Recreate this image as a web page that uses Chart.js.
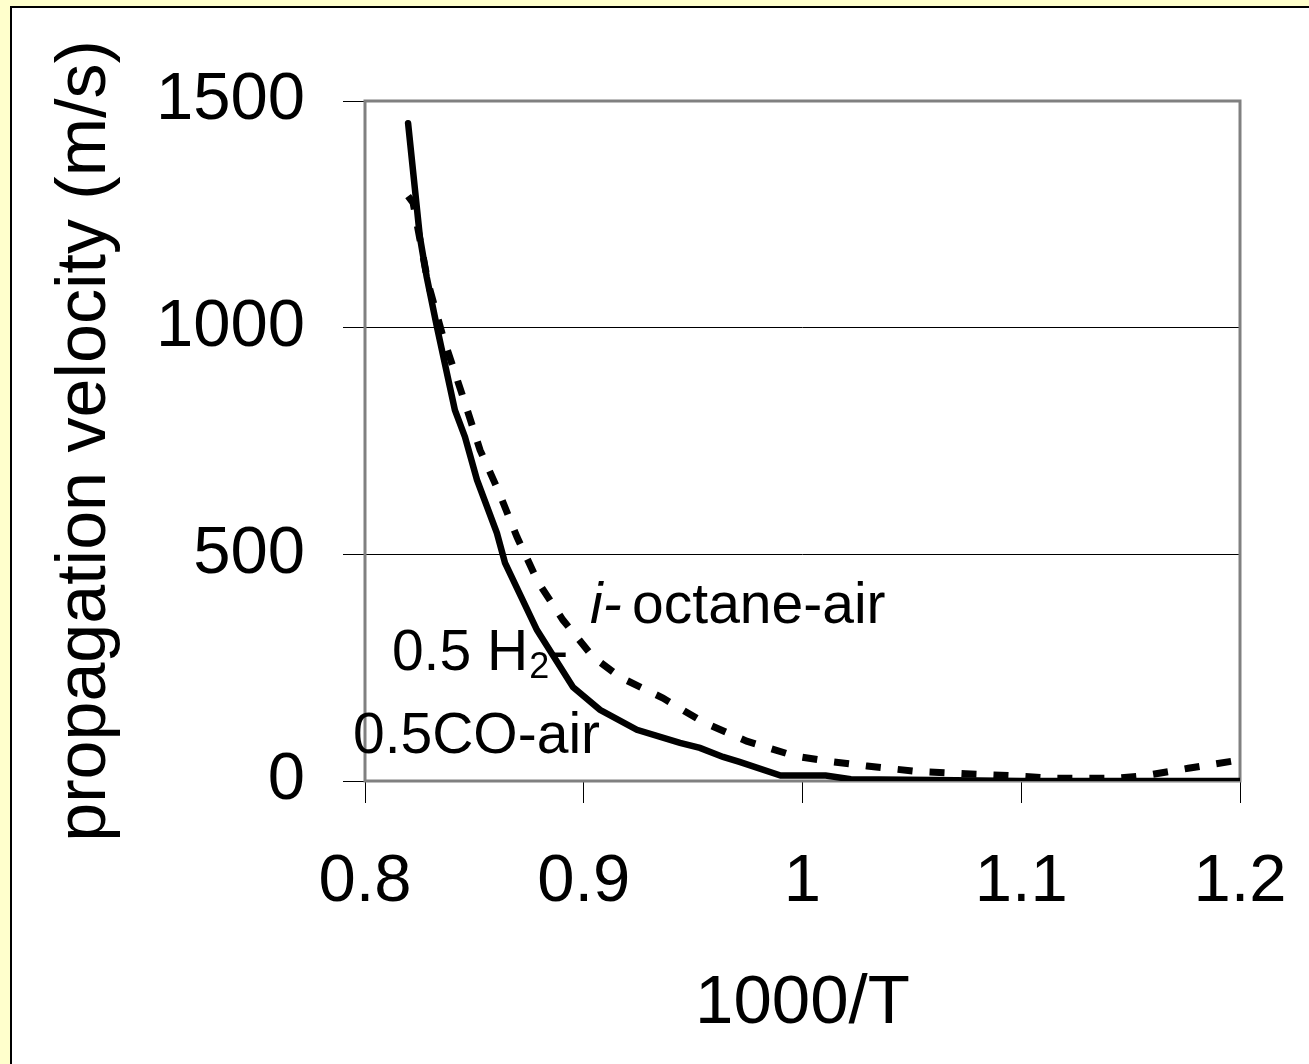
<!DOCTYPE html>
<html lang="en">
  <head>
    <meta charset="UTF-8" />
    <title>Propagation velocity vs 1000/T</title>
    <script src="https://cdn.jsdelivr.net/npm/chart.js@4.4.1/dist/chart.umd.min.js"></script>
    <style>
      body { margin: 0; background: #ffffcc; }
      canvas { display: block; }
    </style>
  </head>
  <body>
    <canvas id="myChart" width="1309" height="1064"></canvas>

    <script>
      // 0.5 H2 - 0.5 CO - air (solid)
      const h2coX = [0.8197, 0.8251, 0.8282, 0.8329, 0.8411, 0.8457, 0.8512, 0.8603, 0.864, 0.8786, 0.8951, 0.9074, 0.9243, 0.944, 0.9531, 0.9637, 0.9712, 0.99, 1.0106, 1.0221, 1.06, 1.1, 1.2];
      const h2coY = [1451, 1200, 1112, 1001, 818, 759, 664, 547, 481, 333, 207, 157, 113, 84, 73, 53, 42, 12, 12, 4, 2, 0, 0];

      // i-octane - air (dashed)
      const octaneX = [0.8197, 0.822, 0.8288, 0.8357, 0.8457, 0.8526, 0.8608, 0.8695, 0.8791, 0.8905, 0.9042, 0.9166, 0.9362, 0.9545, 0.9745, 0.9966, 1.0097, 1.0295, 1.0524, 1.0746, 1.095, 1.1156, 1.1433, 1.1565, 1.1763, 1.1968, 1.2];
      const octaneY = [1290, 1275, 1099, 979, 834, 730, 642, 538, 439, 355, 274, 229, 183, 130, 88, 55, 45, 33, 21, 16, 12, 6, 6, 12, 28, 44, 47];

      const xTicks = [0.8, 0.9, 1.0, 1.1, 1.2];
      const xTickLabels = ["0.8", "0.9", "1", "1.1", "1.2"];
      const yTicks = [0, 500, 1000, 1500];
      const yTickLabels = ["0", "500", "1000", "1500"];

      const FONT = "'Liberation Sans', Arial, sans-serif";

      const toPoints = (xs, ys) => xs.map((x, i) => ({ x: x, y: ys[i] }));

      // page frame: yellow strip with dark edge on top/left
      const framePlugin = {
        id: "frame",
        beforeDraw(chart) {
          const c = chart.ctx;
          c.save();
          c.fillStyle = "#ffffcc";
          c.fillRect(0, 0, chart.width, chart.height);
          c.fillStyle = "#000000";
          c.fillRect(10, 6, chart.width - 10, 2);
          c.fillRect(10, 6, 2, chart.height - 6);
          c.fillStyle = "#ffffff";
          c.fillRect(12, 8, chart.width - 12, chart.height - 8);
          c.restore();
        },
      };

      // grey plot border + text labels on the curves
      const labelPlugin = {
        id: "labels",
        beforeDatasetsDraw(chart) {
          const c = chart.ctx;
          const a = chart.chartArea;
          const xs = chart.scales.x;
          const ys = chart.scales.y;
          c.save();
          c.strokeStyle = "#808080";
          c.lineWidth = 3;
          c.strokeRect(a.left, a.top, a.right - a.left, a.bottom - a.top);

          c.fillStyle = "#000";
          c.textBaseline = "alphabetic";
          c.textAlign = "left";

          // i-octane-air
          let px = xs.getPixelForValue(0.9029);
          let py = ys.getPixelForValue(349);
          c.font = "italic 57px " + FONT;
          c.fillText("i-", px, py);
          c.font = "57px " + FONT;
          c.fillText("octane-air", px + 42, py);

          // 0.5 H2-
          px = xs.getPixelForValue(0.8123);
          py = ys.getPixelForValue(245);
          c.font = "57px " + FONT;
          c.fillText("0.5 H", px, py);
          let w = c.measureText("0.5 H").width;
          c.font = "36px " + FONT;
          c.fillText("2", px + w + 1, py + 8);
          let w2 = c.measureText("2").width;
          c.font = "57px " + FONT;
          c.fillText("-", px + w + w2 + 1, py);

          // 0.5CO-air
          px = xs.getPixelForValue(0.7945);
          py = ys.getPixelForValue(62);
          c.fillText("0.5CO-air", px, py);
          c.restore();
        },
      };

      const ctx = document.getElementById("myChart");

      new Chart(ctx, {
        type: "line",
        data: {
          datasets: [
            {
              label: "0.5 H2-0.5CO-air",
              data: toPoints(h2coX, h2coY),
              borderColor: "#000",
              borderWidth: 6.5,
              pointRadius: 0,
              tension: 0,
              borderCapStyle: "round",
            },
            {
              label: "i-octane-air",
              data: toPoints(octaneX, octaneY),
              borderColor: "#000",
              borderWidth: 7,
              borderDash: [15, 17],
              pointRadius: 0,
              tension: 0,
            },
          ],
        },
        options: {
          responsive: false,
          animation: false,
          layout: { padding: { top: 101, right: 69, left: 0, bottom: 0 } },
          plugins: {
            legend: { display: false },
            tooltip: { enabled: false },
          },
          scales: {
            x: {
              type: "linear",
              min: 0.8,
              max: 1.2,
              afterBuildTicks: (s) => { s.ticks = xTicks.map((v) => ({ value: v })); },
              afterFit: (s) => {
                s.height = 283;
                s.paddingLeft = 0;
                s.paddingRight = 0;
              },
              ticks: {
                color: "#000",
                font: { family: FONT, size: 67 },
                padding: 39,
                maxRotation: 0,
                callback: (v) => xTickLabels[xTicks.findIndex((t) => Math.abs(t - v) < 1e-6)],
              },
              grid: {
                drawOnChartArea: false,
                drawTicks: true,
                tickLength: 22,
                tickColor: "#000",
                lineWidth: 1,
              },
              border: { display: false },
              title: {
                display: true,
                text: "1000/T",
                color: "#000",
                font: { family: FONT, size: 69 },
                padding: { top: 0, bottom: 19 },
              },
            },
            y: {
              min: 0,
              max: 1500,
              afterBuildTicks: (s) => { s.ticks = yTicks.map((v) => ({ value: v })); },
              afterFit: (s) => {
                s.width = 365;
                s.paddingTop = 0;
                s.paddingBottom = 0;
              },
              ticks: {
                color: "#000",
                font: { family: FONT, size: 67 },
                padding: 38,
                callback: (v) => yTickLabels[yTicks.indexOf(v)],
              },
              grid: {
                color: "#000",
                lineWidth: 1,
                tickLength: 22,
                tickColor: "#000",
              },
              border: { display: false },
              title: {
                display: true,
                text: "propagation velocity (m/s)",
                color: "#000",
                font: { family: FONT, size: 70 },
                padding: { top: 44, bottom: 0 },
              },
            },
          },
        },
        plugins: [framePlugin, labelPlugin],
      });
    </script>
  </body>
</html>
